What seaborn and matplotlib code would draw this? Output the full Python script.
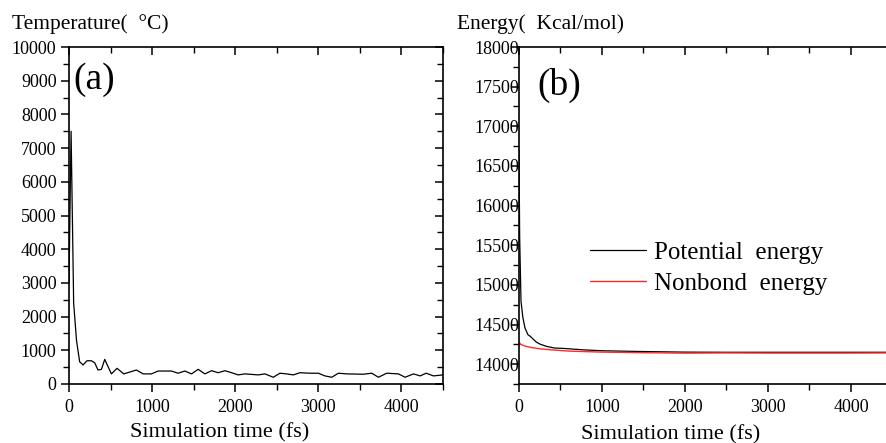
import numpy as np
import pandas as pd
import seaborn as sns
import matplotlib.pyplot as plt
from matplotlib.ticker import MultipleLocator

# temperature run (fs, deg C)
temp_time = [0, 25, 56, 90, 128, 169, 217, 269, 309, 349, 390, 430, 470, 510,
             578, 659, 811, 892, 992, 1072, 1173, 1233, 1313, 1394, 1474, 1554,
             1635, 1715, 1795, 1876, 1956, 2036, 2116, 2277, 2357, 2458, 2538,
             2618, 2699, 2779, 2899, 3000, 3080, 3161, 3241, 3341, 3542, 3643,
             3723, 3823, 3964, 4044, 4145, 4225, 4297, 4386, 4498]
temp_val = [3000, 7500, 2400, 1300, 660, 565, 690, 690, 630, 415, 435, 730, 515, 300,
            465, 300, 415, 300, 300, 385, 385, 385, 320, 385, 300, 435,
            300, 395, 335, 395, 335, 270, 300, 270, 300, 200, 320,
            300, 270, 335, 320, 320, 240, 200, 320, 300, 290, 320,
            200, 320, 300, 200, 300, 240, 320, 240, 270]

# energy run (fs, kcal/mol)
pot_time = [0, 8, 24, 45, 72, 108, 132, 209, 253, 330, 430, 520, 651, 771, 1000,
            1454, 2000, 2500, 3000, 3500, 4000, 4500]
pot_val = [16700, 15600, 14797, 14600, 14456, 14371, 14354, 14278, 14253, 14225,
           14203, 14200, 14190, 14181, 14169, 14160, 14152, 14150, 14150, 14150,
           14150, 14150]
nb_time = [0, 20, 72, 150, 249, 400, 600, 1000, 1500, 2000, 2500, 3000, 3500, 4000, 4500]
nb_val = [14280, 14250, 14228, 14210, 14194, 14180, 14165, 14152, 14145, 14139,
          14142, 14140, 14140, 14140, 14142]

sns.set_theme(style="ticks")
plt.rcParams["font.family"] = ["Liberation Serif", "DejaVu Serif"]
plt.rcParams["axes.linewidth"] = 1.2
plt.rcParams["text.color"] = "black"
plt.rcParams["axes.labelcolor"] = "black"
plt.rcParams["xtick.color"] = "black"
plt.rcParams["ytick.color"] = "black"

W, H = 887, 443
fig = plt.figure(figsize=(W / 100, H / 100), dpi=100)

def px(x, y):
    return x / W, 1 - y / H

ax1 = fig.add_axes([69 / W, 1 - 384 / H, 374 / W, 337 / H])
ax2 = fig.add_axes([519 / W, 1 - 384 / H, 373.5 / W, 337 / H])

sns.lineplot(x=temp_time, y=temp_val, ax=ax1, color="black", linewidth=0.9)
sns.lineplot(x=pot_time, y=pot_val, ax=ax2, color="black", linewidth=0.9,
             label="Potential  energy")
sns.lineplot(x=nb_time, y=nb_val, ax=ax2, color="#ff2a2a", linewidth=1.0,
             label="Nonbond  energy")

ax1.set_xlim(0, 4500)
ax1.set_ylim(0, 10000)
ax1.yaxis.set_major_locator(MultipleLocator(1000))
ax1.yaxis.set_minor_locator(MultipleLocator(500))

ax2.set_xlim(0, 4500)
ax2.set_ylim(13750, 18000)
ax2.yaxis.set_major_locator(MultipleLocator(500))
ax2.yaxis.set_minor_locator(MultipleLocator(250))

for ax in (ax1, ax2):
    ax.xaxis.set_major_locator(MultipleLocator(1000))
    ax.xaxis.set_minor_locator(MultipleLocator(500))
    ax.set_xlabel("")
    ax.set_ylabel("")
    for s in ax.spines.values():
        s.set_visible(True)
        s.set_color("black")
    ax.tick_params(which="major", direction="out", length=6, width=1.1,
                   labelsize=13, colors="black", pad=3)
    ax.tick_params(which="minor", direction="out", length=4, width=1.0, colors="black")
    ax.tick_params(axis="x", which="major", pad=5)
    ax.tick_params(which="both", top=True)
ax1.tick_params(axis="y", which="both", right=True)

# top/right ticks point inward
for ax in (ax1, ax2):
    for t in ax.xaxis.get_ticklines(minor=False)[1::2] + ax.xaxis.get_ticklines(minor=True)[1::2]:
        t.set_marker(3)
    for t in ax.yaxis.get_ticklines(minor=False)[1::2] + ax.yaxis.get_ticklines(minor=True)[1::2]:
        t.set_marker(0)
ax2.tick_params(axis="y", which="major", pad=-6)

leg = ax2.legend(loc="center left", bbox_to_anchor=px(590, 268),
                 bbox_transform=fig.transFigure, frameon=False, fontsize=18,
                 handlelength=2.25, handletextpad=0.3, labelspacing=0.35,
                 borderpad=0, borderaxespad=0)

fig.text(*px(73, 89), "(a)", fontsize=27, va="baseline", ha="left")
fig.text(*px(537, 95), "(b)", fontsize=27, va="baseline", ha="left")
fig.text(*px(12, 29), "Temperature(  \u00b0C)", fontsize=15.5, va="baseline", ha="left")
fig.text(*px(457, 29), "Energy(  Kcal/mol)", fontsize=15.5, va="baseline", ha="left")
fig.text(*px(220, 437), "Simulation time (fs)", fontsize=16, va="baseline", ha="center")
fig.text(*px(671, 439), "Simulation time (fs)", fontsize=16, va="baseline", ha="center")

fig.savefig("out.png", dpi=100)
